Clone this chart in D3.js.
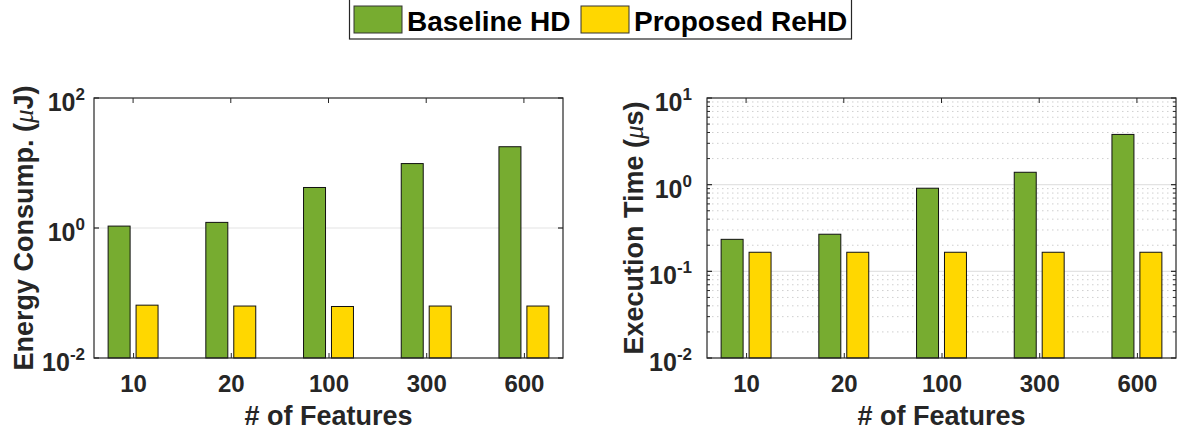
<!DOCTYPE html>
<html>
<head>
<meta charset="utf-8">
<script src="https://cdn.jsdelivr.net/npm/d3@7"></script>
<style>
  body { margin: 0; background: #fff; }
  text { font-family: "Liberation Sans", Arial, Helvetica, sans-serif; }
</style>
</head>
<body>
<svg id="chart" width="1177" height="435"></svg>
<script>
// data
const features = ['10', '20', '100', '300', '600'];
const seriesNames = ['Baseline HD', 'Proposed ReHD'];
const seriesColors = ['#77AC30', '#FFD700'];

const energyBaseline = [1.07, 1.22, 4.2, 9.8, 17.8];
const energyReHD = [0.065, 0.063, 0.062, 0.063, 0.063];

const timeBaseline = [0.234, 0.268, 0.91, 1.39, 3.8];
const timeReHD = [0.166, 0.166, 0.166, 0.166, 0.166];

const energyTicks = [1e-2, 1e0, 1e2];
const timeTicks = [1e-2, 1e-1, 1e0, 1e1];

const svg = d3.select('#chart');
const axisColor = '#262626';

// one panel = one log-scale grouped bar chart
function drawPanel(opt) {
  const g = svg.append('g');
  const x = d3.scaleLinear().domain([0.6, 5.4]).range([opt.x0, opt.x1]);
  const y = d3.scaleLog().domain(opt.domain).range([opt.y1, opt.y0]);

  // minor grid (dotted)
  if (opt.minor) {
    const minorVals = [];
    const lo = Math.log10(opt.domain[0]), hi = Math.log10(opt.domain[1]);
    for (let e = lo; e < hi; e++) {
      for (let m = 2; m <= 9; m++) minorVals.push(m * Math.pow(10, e));
    }
    g.selectAll('line.minor-grid')
      .data(minorVals)
      .enter()
      .append('line')
      .attr('class', 'minor-grid')
      .attr('x1', opt.x0).attr('x2', opt.x1)
      .attr('y1', (d) => y(d)).attr('y2', (d) => y(d))
      .attr('stroke', '#cfcfcf')
      .attr('stroke-width', 1)
      .attr('stroke-dasharray', '1.5,3.5');
    // minor ticks left and right
    [opt.x0, opt.x1].forEach((xx, i) => {
      g.selectAll('line.minor-tick' + i)
        .data(minorVals)
        .enter()
        .append('line')
        .attr('x1', xx).attr('x2', i === 0 ? xx + 3 : xx - 3)
        .attr('y1', (d) => y(d)).attr('y2', (d) => y(d))
        .attr('stroke', axisColor)
        .attr('stroke-width', 1);
    });
  }

  // major grid (solid, light)
  const inner = opt.ticks.slice(1, -1);
  g.selectAll('line.major-grid')
    .data(inner)
    .enter()
    .append('line')
    .attr('x1', opt.x0).attr('x2', opt.x1)
    .attr('y1', (d) => y(d)).attr('y2', (d) => y(d))
    .attr('stroke', '#e3e3e3')
    .attr('stroke-width', 1.2);

  // bars
  const offset = 0.143, bw = 0.225;
  [opt.a, opt.b].forEach((vals, s) => {
    g.selectAll('rect.s' + s)
      .data(vals)
      .enter()
      .append('rect')
      .attr('x', (d, i) => x(i + 1 + (s === 0 ? -offset : offset) - bw / 2))
      .attr('width', x(bw) - x(0))
      .attr('y', (d) => y(d))
      .attr('height', (d) => y(opt.domain[0]) - y(d))
      .attr('fill', seriesColors[s])
      .attr('stroke', '#111')
      .attr('stroke-width', 1);
  });

  // box
  g.append('rect')
    .attr('x', opt.x0).attr('y', opt.y0)
    .attr('width', opt.x1 - opt.x0).attr('height', opt.y1 - opt.y0)
    .attr('fill', 'none')
    .attr('stroke', axisColor)
    .attr('stroke-width', 1.2);

  // x axis (ticks inside)
  const xAxis = d3.axisBottom(x)
    .tickValues([1, 2, 3, 4, 5])
    .tickFormat((d) => features[d - 1])
    .tickSizeInner(-5)
    .tickSizeOuter(0)
    .tickPadding(17);
  const xg = g.append('g').attr('transform', `translate(0,${opt.y1})`).call(xAxis);
  xg.select('.domain').remove();
  xg.selectAll('line').attr('stroke', axisColor);
  xg.selectAll('text')
    .attr('fill', axisColor)
    .style('font-size', '24px')
    .style('font-weight', 'bold')
    .style('font-family', '"Liberation Sans", Arial, sans-serif');
  // top ticks
  g.selectAll('line.top-tick')
    .data([1, 2, 3, 4, 5])
    .enter()
    .append('line')
    .attr('x1', (d) => x(d)).attr('x2', (d) => x(d))
    .attr('y1', opt.y0).attr('y2', opt.y0 + 5)
    .attr('stroke', axisColor);

  // y major ticks both sides
  [opt.x0, opt.x1].forEach((xx, i) => {
    g.selectAll('line.ytick' + i)
      .data(opt.ticks)
      .enter()
      .append('line')
      .attr('x1', xx).attr('x2', i === 0 ? xx + 5 : xx - 5)
      .attr('y1', (d) => y(d)).attr('y2', (d) => y(d))
      .attr('stroke', axisColor)
      .attr('stroke-width', 1.2);
  });

  // y tick labels 10^n
  const yl = g.selectAll('text.ylab')
    .data(opt.ticks)
    .enter()
    .append('text')
    .attr('x', opt.x0 - opt.labelGap)
    .attr('y', (d) => y(d) + 13)
    .attr('text-anchor', 'end')
    .attr('fill', axisColor)
    .style('font-size', '25px')
    .style('font-weight', 'bold');
  yl.append('tspan').text('10');
  yl.append('tspan')
    .attr('dy', -11)
    .style('font-size', '17px')
    .text((d) => Math.round(Math.log10(d)).toString());

  // x axis title
  g.append('text')
    .attr('x', (opt.x0 + opt.x1) / 2)
    .attr('y', 425)
    .attr('text-anchor', 'middle')
    .attr('fill', axisColor)
    .style('font-size', '27px')
    .style('font-weight', 'bold')
    .text('# of Features');

  // y axis title
  const yt = g.append('text')
    .attr('transform', `translate(${opt.titleX},${(opt.y0 + opt.y1) / 2}) rotate(-90)`)
    .attr('text-anchor', 'middle')
    .attr('fill', axisColor)
    .style('font-size', '27px')
    .style('font-weight', 'bold');
  yt.append('tspan').text(opt.title[0] + ' (');
  yt.append('tspan')
    .style('font-family', '"Liberation Serif", "DejaVu Serif", serif')
    .style('font-style', 'italic')
    .style('font-weight', 'normal')
    .text('\u03BC');
  yt.append('tspan').text(opt.title[1] + ')');
}

drawPanel({
  x0: 94, x1: 563, y0: 98, y1: 358,
  domain: [1e-2, 1e2], ticks: energyTicks,
  a: energyBaseline, b: energyReHD,
  minor: false, labelGap: 9, titleX: 33,
  title: ['Energy Consump.', 'J']
});

drawPanel({
  x0: 707, x1: 1176, y0: 98, y1: 358,
  domain: [1e-2, 1e1], ticks: timeTicks,
  a: timeBaseline, b: timeReHD,
  minor: true, labelGap: 15, titleX: 643,
  title: ['Execution Time', 's']
});

// legend
const legend = svg.append('g');
legend.append('rect')
  .attr('x', 349.5).attr('y', -1)
  .attr('width', 502).attr('height', 40)
  .attr('fill', '#fff')
  .attr('stroke', axisColor)
  .attr('stroke-width', 1.2);
const legendX = [354, 581];
seriesNames.forEach((name, i) => {
  legend.append('rect')
    .attr('x', legendX[i]).attr('y', 6)
    .attr('width', 48).attr('height', 27)
    .attr('fill', seriesColors[i])
    .attr('stroke', '#333')
    .attr('stroke-width', 1);
  legend.append('text')
    .attr('x', legendX[i] + 53)
    .attr('y', 31)
    .attr('fill', '#000')
    .style('font-size', '28px')
    .style('font-weight', 'bold')
    .text(name);
});
</script>
</body>
</html>
